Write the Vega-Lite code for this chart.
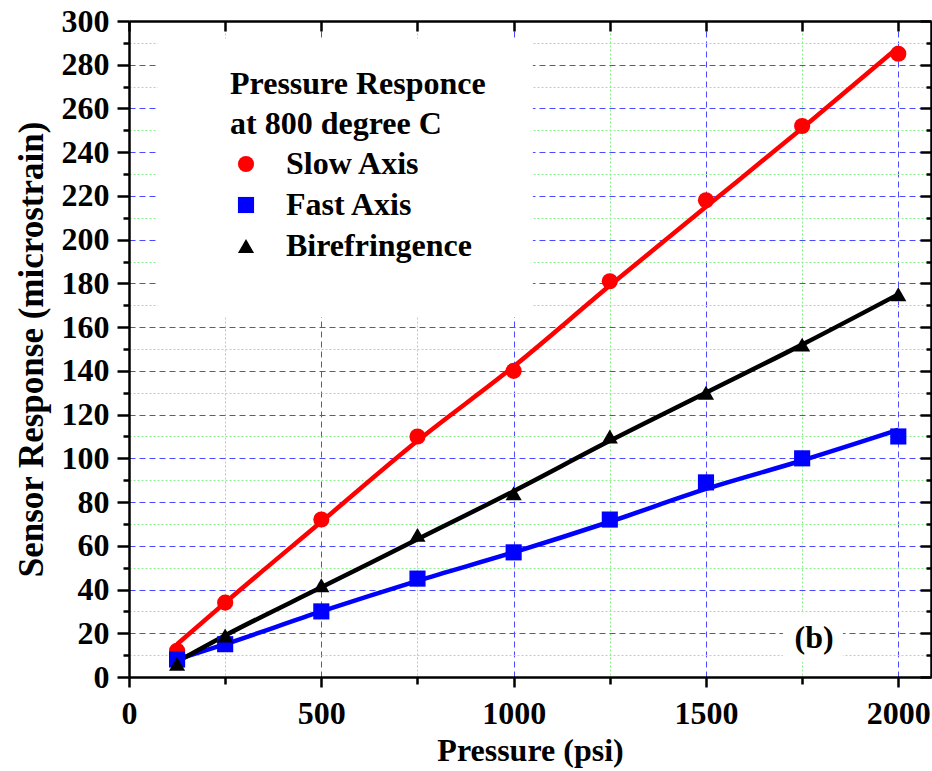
{
  "$schema": "https://vega.github.io/schema/vega-lite/v6.json",
  "width": 802,
  "height": 656,
  "autosize": {"type": "none"},
  "padding": {"left": 129, "top": 21, "right": 1, "bottom": 94},
  "background": "white",
  "config": {
    "view": {"stroke": null},
    "axis": {
      "domainColor": "black", "tickColor": "black", "domainWidth": 2.5, "tickWidth": 2.5,
      "labelFont": "Liberation Serif", "labelFontWeight": "bold", "labelFontSize": 32, "labelColor": "black",
      "titleFont": "Liberation Serif", "titleFontWeight": "bold", "titleFontSize": 32, "titleColor": "black",
      "labelFlush": false, "labelOverlap": false
    },
    "legend": {
      "titleFont": "Liberation Serif", "titleFontWeight": "bold", "titleFontSize": 32, "titleLineHeight": 40, "titleColor": "black", "titleLimit": 500, "titlePadding": 7,
      "labelFont": "Liberation Serif", "labelFontWeight": "bold", "labelFontSize": 32, "labelColor": "black", "labelLimit": 500, "labelOffset": 24,
      "symbolSize": 260, "rowPadding": 9
    }
  },
  "datasets": {
    "points": [
      {"series": "Slow Axis", "p": 125, "r": 12}, {"series": "Slow Axis", "p": 250, "r": 34}, {"series": "Slow Axis", "p": 500, "r": 72},
      {"series": "Slow Axis", "p": 750, "r": 110}, {"series": "Slow Axis", "p": 1000, "r": 140}, {"series": "Slow Axis", "p": 1250, "r": 181},
      {"series": "Slow Axis", "p": 1500, "r": 218}, {"series": "Slow Axis", "p": 1750, "r": 252}, {"series": "Slow Axis", "p": 2000, "r": 285},
      {"series": "Fast Axis", "p": 125, "r": 8}, {"series": "Fast Axis", "p": 250, "r": 15}, {"series": "Fast Axis", "p": 500, "r": 30},
      {"series": "Fast Axis", "p": 750, "r": 45}, {"series": "Fast Axis", "p": 1000, "r": 57}, {"series": "Fast Axis", "p": 1250, "r": 72},
      {"series": "Fast Axis", "p": 1500, "r": 89}, {"series": "Fast Axis", "p": 1750, "r": 100}, {"series": "Fast Axis", "p": 2000, "r": 110},
      {"series": "Birefringence", "p": 125, "r": 6}, {"series": "Birefringence", "p": 250, "r": 19}, {"series": "Birefringence", "p": 500, "r": 42},
      {"series": "Birefringence", "p": 750, "r": 65}, {"series": "Birefringence", "p": 1000, "r": 84}, {"series": "Birefringence", "p": 1250, "r": 110},
      {"series": "Birefringence", "p": 1500, "r": 130}, {"series": "Birefringence", "p": 1750, "r": 152}, {"series": "Birefringence", "p": 2000, "r": 175}
    ],
    "fits": [
      {"series": "Slow Axis", "p": 125, "r": 15}, {"series": "Slow Axis", "p": 250, "r": 34}, {"series": "Slow Axis", "p": 500, "r": 71},
      {"series": "Slow Axis", "p": 750, "r": 108}, {"series": "Slow Axis", "p": 1000, "r": 142}, {"series": "Slow Axis", "p": 1250, "r": 179},
      {"series": "Slow Axis", "p": 1500, "r": 215}, {"series": "Slow Axis", "p": 1750, "r": 251}, {"series": "Slow Axis", "p": 2000, "r": 288},
      {"series": "Fast Axis", "p": 125, "r": 8}, {"series": "Fast Axis", "p": 250, "r": 15}, {"series": "Fast Axis", "p": 500, "r": 30},
      {"series": "Fast Axis", "p": 750, "r": 44}, {"series": "Fast Axis", "p": 1000, "r": 57}, {"series": "Fast Axis", "p": 1250, "r": 71},
      {"series": "Fast Axis", "p": 1500, "r": 86}, {"series": "Fast Axis", "p": 1750, "r": 99}, {"series": "Fast Axis", "p": 2000, "r": 113},
      {"series": "Birefringence", "p": 125, "r": 7}, {"series": "Birefringence", "p": 250, "r": 19}, {"series": "Birefringence", "p": 500, "r": 41},
      {"series": "Birefringence", "p": 750, "r": 63}, {"series": "Birefringence", "p": 1000, "r": 85}, {"series": "Birefringence", "p": 1250, "r": 108},
      {"series": "Birefringence", "p": 1500, "r": 130}, {"series": "Birefringence", "p": 1750, "r": 152}, {"series": "Birefringence", "p": 2000, "r": 175}
    ],
    "one": [{"label": "(b)"}]
  },
  "layer": [
    {
      "data": {"name": "one"},
      "mark": {"type": "rect", "fill": "white"},
      "encoding": {
        "x": {"datum": 75, "type": "quantitative", "scale": {"domain": [0, 2085], "nice": false, "zero": false}, "axis": null},
        "x2": {"datum": 1050},
        "y": {"datum": 164.6, "type": "quantitative", "scale": {"domain": [0, 300], "nice": false, "zero": false},
              "axis": {"orient": "right", "values": [10, 30, 50, 70, 90, 110, 130, 150, 170, 190, 210, 230, 250, 270, 290], "tickSize": -5, "labels": false, "domain": false, "grid": false, "title": null}},
        "y2": {"datum": 292}
      }
    },
    {
      "data": {"name": "one"},
      "mark": {"type": "rect", "fill": "white"},
      "encoding": {
        "x": {"datum": 1700, "type": "quantitative", "axis": null},
        "x2": {"datum": 1856},
        "y": {"datum": 7, "type": "quantitative", "axis": null},
        "y2": {"datum": 29}
      }
    },
    {
      "data": {"name": "fits"},
      "mark": {"type": "line", "strokeWidth": 4.5, "interpolate": "monotone"},
      "encoding": {
        "x": {"field": "p", "type": "quantitative",
              "axis": {"orient": "bottom", "values": [0, 500, 1000, 1500, 2000], "format": "d", "tickSize": 10, "labelPadding": 11, "grid": true, "gridColor": "#4a4aff", "gridDash": [6, 4], "gridWidth": 1, "title": "Pressure (psi)", "titlePadding": 6}},
        "y": {"field": "r", "type": "quantitative",
              "axis": {"orient": "left", "values": [0, 20, 40, 60, 80, 100, 120, 140, 160, 180, 200, 220, 240, 260, 280, 300], "format": "d", "tickSize": 12, "labelPadding": 8, "grid": true, "gridColor": "#4a4aff", "gridDash": [6, 4], "gridWidth": 1, "title": "Sensor Response (microstrain)", "titleFontSize": 35, "titlePadding": 12}},
        "stroke": {"field": "series", "type": "nominal", "scale": {"domain": ["Birefringence", "Fast Axis", "Slow Axis"], "range": ["#000000", "#0000ff", "#ff0000"]}, "legend": null},
        "detail": {"field": "series"}
      }
    },
    {
      "data": {"name": "points"},
      "mark": {"type": "point", "filled": true, "opacity": 1, "size": 260},
      "encoding": {
        "x": {"field": "p", "type": "quantitative",
              "axis": {"orient": "bottom", "values": [250, 750, 1250, 1750], "tickSize": 7, "labels": false, "domain": false, "grid": true, "gridColor": "#8fee8f", "gridDash": [2, 2], "gridWidth": 1, "title": null}},
        "y": {"field": "r", "type": "quantitative",
              "axis": {"orient": "left", "values": [10, 30, 50, 70, 90, 110, 130, 150, 170, 190, 210, 230, 250, 270, 290], "tickSize": 6, "labels": false, "domain": false, "grid": true, "gridColor": "#8fee8f", "gridDash": [2, 2], "gridWidth": 1, "title": null}},
        "color": {"field": "series", "type": "nominal", "scale": {"domain": ["Slow Axis", "Fast Axis", "Birefringence"], "range": ["#ff0000", "#0000ff", "#000000"]},
                  "legend": {"title": ["Pressure Responce", "at 800 degree C"], "orient": "none", "legendX": 101, "legendY": 48, "padding": 0, "zindex": 1}},
        "shape": {"field": "series", "type": "nominal", "scale": {"domain": ["Slow Axis", "Fast Axis", "Birefringence"], "range": ["circle", "square", "triangle-up"]},
                  "legend": {"title": ["Pressure Responce", "at 800 degree C"], "orient": "none", "legendX": 101, "legendY": 48, "padding": 0, "zindex": 1}}
      }
    },
    {
      "data": {"name": "one"},
      "mark": {"type": "text", "font": "Liberation Serif", "fontWeight": "bold", "fontSize": 32, "color": "black", "align": "center", "baseline": "middle"},
      "encoding": {
        "text": {"field": "label"},
        "x": {"datum": 1781, "type": "quantitative",
              "axis": {"orient": "top", "values": [0, 250, 500, 750, 1000, 1250, 1500, 1750, 2000], "tickSize": -10, "labels": false, "domain": true, "grid": false, "title": null}},
        "y": {"datum": 18, "type": "quantitative",
              "axis": {"orient": "right", "values": [0, 20, 40, 60, 80, 100, 120, 140, 160, 180, 200, 220, 240, 260, 280, 300], "tickSize": -11, "labels": false, "domain": true, "grid": false, "title": null}}
      }
    }
  ],
  "resolve": {"axis": {"x": "independent", "y": "independent"}}
}
